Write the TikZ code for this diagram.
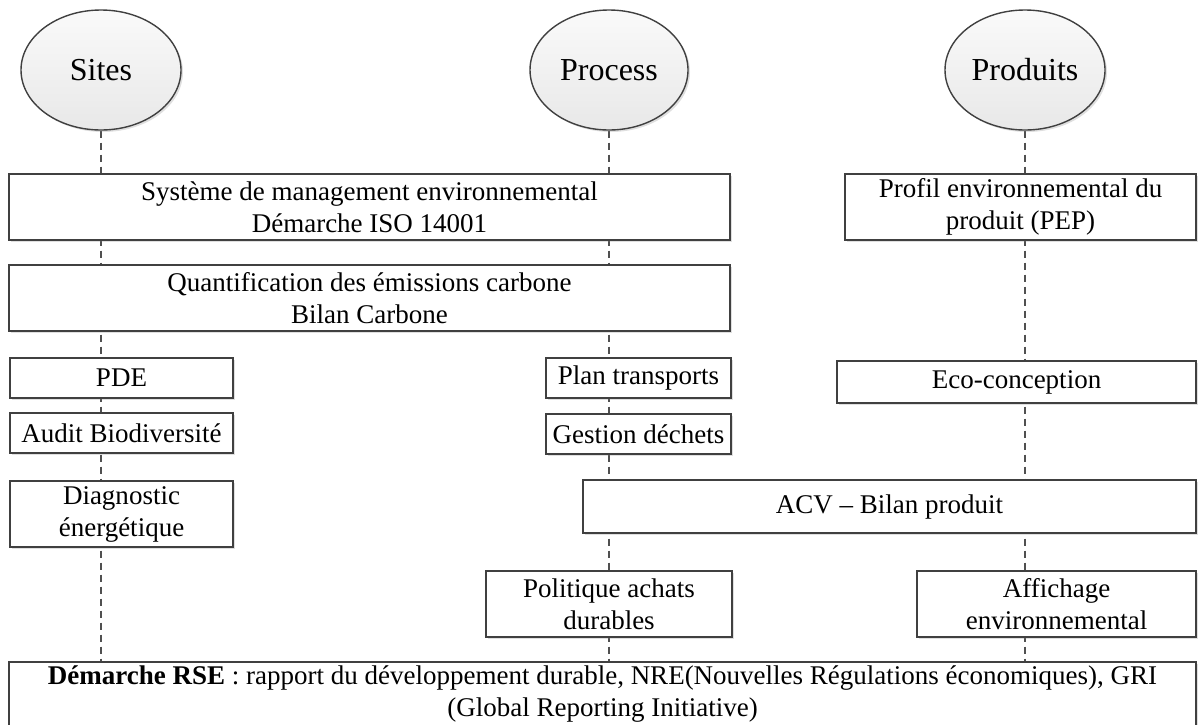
\documentclass[tikz,border=0pt]{standalone}
\usepackage{fontspec}
\setmainfont{Liberation Serif}
\usetikzlibrary{shapes.geometric, shadows, backgrounds}
\definecolor{edge}{HTML}{404040}
\definecolor{life}{HTML}{505050}
\tikzset{
	box/.style = {draw = edge, line width = 0.7pt, fill = white, align = center, inner sep = 0pt,
		font = \fontsize{13.5}{16}\selectfont,
		drop shadow = {shadow xshift = 1pt, shadow yshift = -1pt, opacity = 0.25}},
	actor/.style = {ellipse, draw = edge, line width = 0.7pt, top color = gray!4, bottom color = gray!18,
		minimum width = 80pt, minimum height = 60pt, inner sep = 0pt,
		font = \fontsize{16}{19}\selectfont,
		drop shadow = {shadow xshift = 1pt, shadow yshift = -1pt, opacity = 0.25}},
	lifeline/.style = {draw = life, line width = 0.6pt, dash pattern = on 3.5pt off 2.5pt}
}
\begin{document}
\begin{tikzpicture}[x = 0.5pt, y = -0.5pt]
		\useasboundingbox (0, 0) rectangle (1198, 724);
		%%%%%%%%%%%%%
		\node[actor] (sites) at (101, 70) {Sites};
		\node[actor, minimum width = 79pt] (process) at (609, 70) {Process};
		\node[actor] (produits) at (1025, 70) {Produits};
		%%%%%%%%%%%%%
		\node[box, minimum width = 360.5pt, minimum height = 33pt] (sme) at (369.5, 207) {Système de management environnemental\\Démarche ISO 14001};
		\node[box, minimum width = 360.5pt, minimum height = 33pt] (carbone) at (369.5, 298) {Quantification des émissions carbone\\Bilan Carbone};
		\node[box, minimum width = 175.5pt, minimum height = 33pt] (pep) at (1020.5, 207) {Profil environnemental du\\produit (PEP)};
		\node[box, minimum width = 111.5pt, minimum height = 20pt] (pde) at (121.5, 378) {PDE};
		\node[box, minimum width = 111.5pt, minimum height = 20pt] (audit) at (121.5, 433) {Audit Biodiversité};
		\node[box, minimum width = 111.5pt, minimum height = 33pt] (diag) at (121.5, 514) {Diagnostic\\énergétique};
		\node[box, minimum width = 92.5pt, minimum height = 20pt] (transports) at (638.5, 378) {Plan transports};
		\node[box, minimum width = 92.5pt, minimum height = 20pt] (dechets) at (638.5, 434) {Gestion déchets};
		\node[box, minimum width = 179.5pt, minimum height = 21pt] (eco) at (1016.5, 382) {Eco-conception};
		\node[box, minimum width = 306.5pt, minimum height = 26.5pt] (acv) at (889.5, 506.5) {ACV – Bilan produit};
		\node[box, minimum width = 123pt, minimum height = 33pt] (achats) at (609, 604) {Politique achats\\durables};
		\node[box, minimum width = 139.5pt, minimum height = 33pt] (affichage) at (1056.5, 604) {Affichage\\environnemental};
		\node[box, minimum width = 593.5pt, minimum height = 32pt] (rse) at (602.5, 694) {\textbf{Démarche RSE} : rapport du développement durable, NRE(Nouvelles Régulations économiques), GRI\\(Global Reporting Initiative)};
		%%%%%%%%%%%%% 
		\begin{scope}[on background layer]
			\draw[lifeline] (sites.south) to (sites.south |- rse.north);
			\draw[lifeline] (process.south) to (process.south |- rse.north);
			\draw[lifeline] (produits.south) to (produits.south |- rse.north);
		\end{scope}
\end{tikzpicture}
\end{document}
